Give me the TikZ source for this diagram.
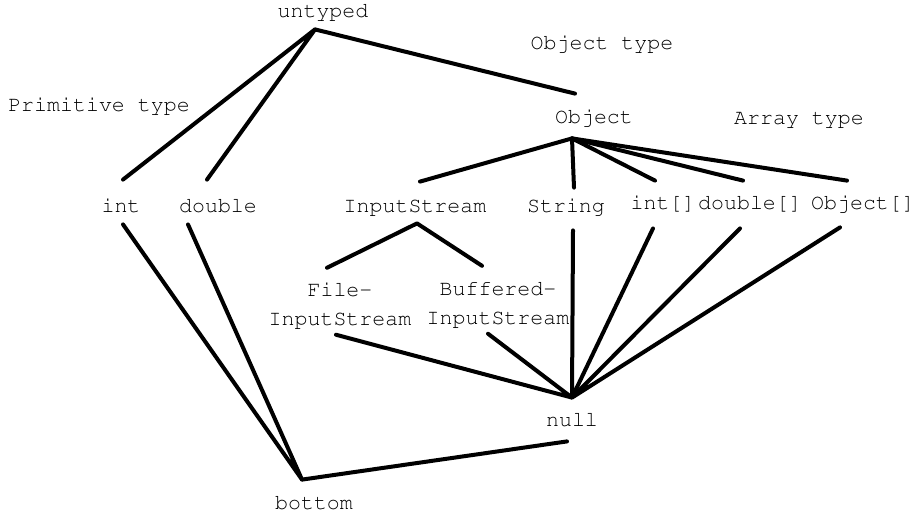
\documentclass[tikz,border=0pt]{standalone}
\usepackage[T1]{fontenc}
\usepackage{courier}
\usepackage{tikz}

\begin{document}
\begin{tikzpicture}[x=0.5pt, y=-0.5pt,
  every node/.style={font=\ttfamily\fontsize{10.8}{14.5}\selectfont, inner sep=0pt, anchor=base},
  tname/.style={text height=7pt, text depth=2pt},
  tname2/.style={align=center},
  link/.style={draw=black, line width=2pt, line cap=round, line join=round}]
\useasboundingbox (0,0) rectangle (920,515);
\node[tname] (untyped) at (323,17) {untyped};
\node (objtype) at (602,49) {Object type};
\node (primtype) at (99,111) {Primitive type};
\node[tname] (object) at (594,123) {Object};
\node (arrtype) at (799,124) {Array type};
\node[tname] (int) at (121,212) {int};
\node[tname] (double) at (218,212) {double};
\node[tname] (istream) at (415,212) {InputStream};
\node[tname] (string) at (566,212) {String};
\node[tname] (intarr) at (663,209) {int[]};
\node[tname] (dblarr) at (750,209) {double[]};
\node[tname] (objarr) at (863,209) {Object[]};
\node[tname2] (fis) at (340,325) {File-\\InputStream};
\node[tname2] (bis) at (498,324) {Buffered-\\InputStream};
\node[tname] (null) at (572,426) {null};
\node[tname] (bottom) at (314,509) {bottom};

\draw[link] ([shift={(2,-18)}]int.north) -- ([shift={(-8,8)}]untyped.south) -- ([shift={(-11,-18)}]double.north);
\draw[link] ([shift={(-8,8)}]untyped.south) -- ([shift={(-19,-15)}]object.north);
\draw[link] ([shift={(5,-16)}]istream.north) -- ([shift={(-22,11)}]object.south) -- ([shift={(8,-10)}]string.north);
\draw[link] ([shift={(-22,11)}]object.south) -- ([shift={(-8,-14)}]intarr.north);
\draw[link] ([shift={(-22,11)}]object.south) -- ([shift={(-7,-14)}]dblarr.north);
\draw[link] ([shift={(-22,11)}]object.south) -- ([shift={(-16,-14)}]objarr.north);
\draw[link] ([shift={(-13,-14)}]fis.north) -- ([shift={(2,7)}]istream.south) -- ([shift={(-16,-15)}]bis.north);
\draw[link] ([shift={(-4,6)}]fis.south) -- ([shift={(0,-14)}]null.north) -- ([shift={(-10,6)}]bis.south);
\draw[link] ([shift={(7,14)}]string.south) -- ([shift={(0,-14)}]null.north) -- ([shift={(-10,15)}]intarr.south);
\draw[link] ([shift={(-10,15)}]dblarr.south) -- ([shift={(0,-14)}]null.north) -- ([shift={(-23,14)}]objarr.south);
\draw[link] ([shift={(2,8)}]int.south) -- ([shift={(-12,-15)}]bottom.north) -- ([shift={(-30,8)}]double.south);
\draw[link] ([shift={(-12,-15)}]bottom.north) -- ([shift={(-5,11)}]null.south);
\end{tikzpicture}
\end{document}
